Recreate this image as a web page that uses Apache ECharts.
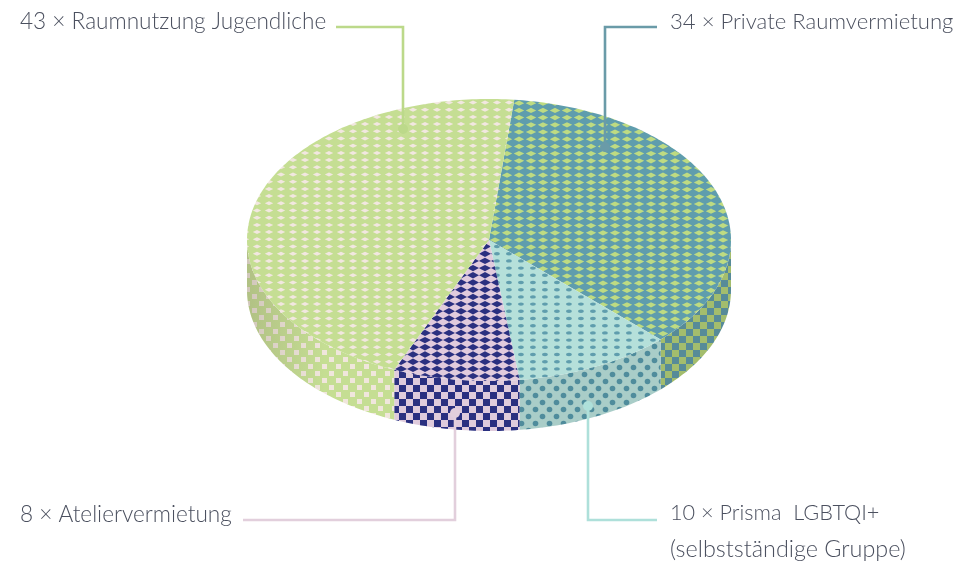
<!DOCTYPE html>
<html><head><meta charset="utf-8">
<style>html,body{margin:0;padding:0;background:#fff}#c{width:977px;height:563px}</style>
<script src="https://cdn.jsdelivr.net/npm/echarts@6/dist/echarts.min.js"></script>
</head><body><div id="c"></div>
<script>
// Data
const categories = ['Private Raumvermietung', 'Prisma  LGBTQI+\n(selbstständige Gruppe)', 'Ateliervermietung', 'Raumnutzung Jugendliche'];
const counts = [34, 10, 8, 43];
const labelPrefix = ['34 × ', '10 × ', '8 × ', '43 × '];

// Presentation
const CX = 489, CY = 240, RX = 242, RY = 141, DEPTH = 50, START_DEG = 6;
const topColors = [['#5f9dad', '#bedb82'], ['#b5e0da', '#5f9dad'], ['#e1cbdd', '#2a3080'], ['#c5de93', '#f2e7e0']];
const sideColors = [['#578b98', '#a3bd6d'], ['#a9cdc8', '#4f8c9c'], ['#dfcbdc', '#2a3080'], ['#c5de93', '#f0e6dc']];
const lineColors = ['#6a9ba8', '#aee0da', '#e2cfdc', '#bcd98a'];
const leaders = [
  {pts: [[605, 147], [605, 27], [657, 27]], tx: 670, ty: [22], size: [22.1]},
  {pts: [[588, 406], [588, 520], [657, 520]], tx: 670, ty: [513, 549], size: [21.7, 23.4]},
  {pts: [[455, 413], [455, 520], [243, 520]], tx: 20, ty: [515], size: [22.6]},
  {pts: [[403, 129], [403, 27], [336, 27]], tx: 20, ty: [22], size: [22.6]}
];

function tile(w, h, bg, draw) {
  const c = document.createElement('canvas');
  c.width = w; c.height = h;
  const g = c.getContext('2d');
  g.fillStyle = bg; g.fillRect(0, 0, w, h);
  draw(g);
  return {image: c, repeat: 'repeat'};
}
// 5 columns of 12px and 5 rows of 7.2px, so the tile wraps on whole pixels
function gridTile(cols, shape, w, h, ox, oy) {
  return tile(60, 36, cols[0], g => {
    g.fillStyle = cols[1];
    for (let r = -1; r <= 5; r++) for (let q = -1; q <= 5; q++) {
      const x = ox + q * 12, y = oy + r * 7.2;
      g.beginPath();
      if (shape === 'diamond') {
        g.moveTo(x - w / 2, y); g.lineTo(x, y - h / 2); g.lineTo(x + w / 2, y); g.lineTo(x, y + h / 2);
        g.closePath();
      } else {
        g.ellipse(x, y, w / 2, h / 2, 0, 0, Math.PI * 2);
      }
      g.fill();
    }
  });
}
function checkTile(cols, s) {
  return tile(14, 14, cols[0], g => {
    g.fillStyle = cols[1];
    g.fillRect(0, 0, s, s); g.fillRect(7, 7, s, s);
  });
}
function sideDots(cols) {
  return tile(14, 14, cols[0], g => {
    g.fillStyle = cols[1];
    [[3.5, 3.5], [10.5, 10.5]].forEach(p => {
      g.beginPath(); g.arc(p[0], p[1], 2.8, 0, Math.PI * 2); g.fill();
    });
  });
}
const topFills = [
  gridTile(topColors[0], 'diamond', 10.5, 5.2, 3, 2.4),
  gridTile(topColors[1], 'ellipse', 5.8, 3.4, 5, 1.7),
  gridTile(topColors[2], 'diamond', 12, 6.4, 5, 1.7),
  gridTile(topColors[3], 'diamond', 8.4, 4, 5, 1.7)
];
const sideFills = [checkTile(sideColors[0], 7), sideDots(sideColors[1]), checkTile(sideColors[2], 7), checkTile(sideColors[3], 5)];

const total = counts.reduce((a, b) => a + b, 0);
const spans = [];
counts.reduce((acc, v) => { const e = acc + v / total * 360; spans.push([acc, e]); return e; }, START_DEG);

const pt = (deg, dy) => {
  const a = deg * Math.PI / 180;
  return [CX + RX * Math.sin(a), CY - RY * Math.cos(a) + dy];
};
function arc(a, b, dy) {
  const out = [], n = Math.max(2, Math.ceil(Math.abs(b - a)));
  for (let i = 0; i <= n; i++) out.push(pt(a + (b - a) * i / n, dy));
  return out;
}

function renderSide(params, api) {
  const i = params.dataIndex, s = spans[i];
  const a = Math.max(s[0], 90), b = Math.min(s[1], 270);
  if (a >= b) return {type: 'group', children: []};
  const pts = arc(a, b, 0).concat(arc(b, a, DEPTH));
  const kids = [{type: 'polygon', shape: {points: pts}, style: {fill: sideFills[i]}, silent: true}];
  const shade = i === 3
    ? {type: 'linear', x: 247, y: 0, x2: 325, y2: 0, global: true, colorStops: [{offset: 0, color: 'rgba(120,110,90,0.26)'}, {offset: 1, color: 'rgba(120,110,90,0)'}]}
    : null;
  if (shade) kids.push({type: 'polygon', shape: {points: pts}, style: {fill: shade}, silent: true});
  return {type: 'group', children: kids};
}
function renderTop(params, api) {
  const i = params.dataIndex, s = spans[i];
  const pts = [[CX, CY]].concat(arc(s[0], s[1], 0));
  return {type: 'polygon', shape: {points: pts}, style: {fill: topFills[i]}, silent: true};
}
function renderLeader(params, api) {
  const i = params.dataIndex, l = leaders[i], p = l.pts;
  const lines = (labelPrefix[i] + categories[i]).split('\n');
  return {type: 'group', children: [
    {type: 'polyline', shape: {points: p}, style: {fill: null, stroke: lineColors[i], lineWidth: 2.6}, silent: true},
    {type: 'circle', shape: {cx: p[0][0], cy: p[0][1], r: 5}, style: {fill: lineColors[i]}, silent: true}
  ].concat(lines.map((t, k) => ({type: 'text', x: l.tx, y: l.ty[k], silent: true, style: {
      text: t, x: 0, y: 0, fill: '#4b505f',
      font: '300 ' + l.size[k] + 'px Lato', verticalAlign: 'middle', align: 'left'
    }})))};
}
const seriesData = counts.map((v, i) => ({name: categories[i], value: v}));
const chart = echarts.init(document.getElementById('c'), null, {renderer: 'canvas'});
chart.setOption({
  animation: false,
  backgroundColor: '#fff',
  series: [
    {type: 'custom', coordinateSystem: 'none', renderItem: renderSide, data: seriesData, z: 1},
    {type: 'custom', coordinateSystem: 'none', renderItem: renderTop, data: seriesData, z: 2},
    {type: 'custom', coordinateSystem: 'none', renderItem: renderLeader, data: seriesData, z: 3}
  ]
});
</script></body></html>
